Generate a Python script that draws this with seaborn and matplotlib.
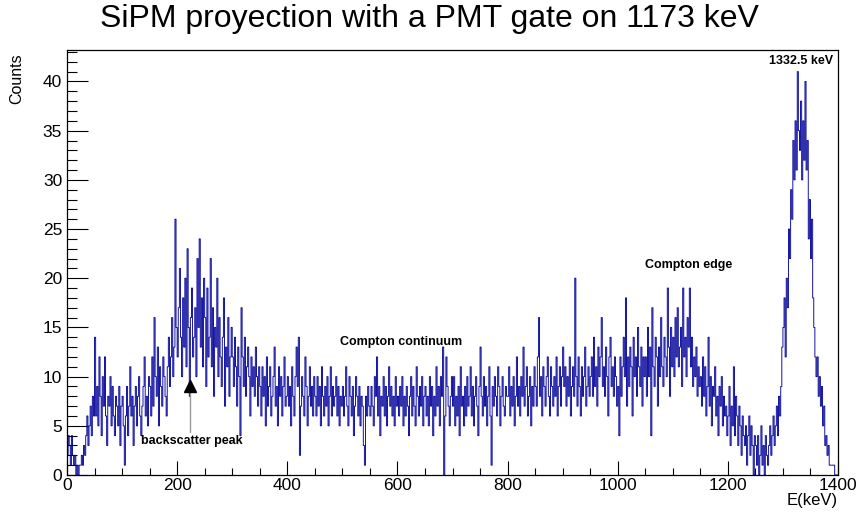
import numpy as np
import pandas as pd
import matplotlib
matplotlib.use("Agg")
import matplotlib.pyplot as plt
from matplotlib.ticker import MultipleLocator
import seaborn as sns

# ---------------- data (counts per 2 keV bin) ----------------
BIN_WIDTH = 2  # keV
E_MIN, E_MAX = 0, 1400

counts_0000_0250 = [
    2, 4, 3, 1, 4, 2, 1, 2, 0, 1, 0, 1, 1, 2, 1, 3, 2, 4, 6, 3, 5, 7, 4, 8, 6,
    14, 6, 9, 5, 12, 8, 4, 10, 7, 12, 6, 3, 8, 7, 10, 5, 9, 6, 4, 8, 7, 5, 9, 3, 7,
    8, 5, 1, 6, 9, 4, 7, 11, 6, 8, 3, 7, 9, 5, 8, 10, 6, 4, 7, 9, 12, 6, 8, 5, 10,
    9, 6, 12, 7, 16, 10, 8, 13, 5, 11, 9, 7, 12, 10, 8, 6, 11, 14, 9, 12, 16, 10, 13, 26, 15,
    12, 17, 21, 14, 10, 18, 13, 20, 11, 23, 15, 8, 16, 19, 12, 14, 17, 10, 22, 15, 24, 13, 18, 11, 20,
]
counts_0250_0500 = [
    16, 9, 19, 12, 14, 22, 11, 17, 8, 15, 13, 20, 10, 16, 12, 9, 14, 18, 7, 13, 11, 16, 8, 12, 15,
    12, 9, 14, 11, 7, 13, 10, 4, 17, 12, 9, 14, 8, 11, 13, 10, 6, 12, 9, 11, 8, 13, 10, 7, 11,
    9, 6, 11, 8, 10, 5, 12, 7, 9, 11, 6, 8, 10, 13, 7, 9, 5, 11, 8, 10, 6, 9, 12, 7, 8,
    10, 7, 9, 5, 11, 8, 6, 10, 13, 9, 14, 2, 7, 10, 8, 6, 12, 9, 5, 8, 11, 7, 9, 6, 10,
    8, 6, 10, 7, 9, 5, 11, 8, 6, 9, 7, 10, 5, 8, 11, 6, 9, 7, 8, 10, 6, 9, 5, 8, 7,
]
counts_0500_0750 = [
    9, 6, 8, 11, 7, 5, 10, 8, 6, 9, 4, 7, 10, 8, 6, 9, 5, 8, 7, 3, 1, 8, 6, 9, 7,
    6, 9, 7, 5, 10, 8, 12, 6, 9, 4, 8, 7, 10, 6, 9, 5, 8, 11, 7, 9, 6, 8, 5, 10, 7,
    8, 6, 9, 7, 10, 5, 8, 6, 9, 7, 4, 8, 10, 6, 9, 7, 5, 11, 8, 6, 9, 7, 10, 5, 8,
    9, 6, 8, 5, 10, 7, 9, 4, 8, 6, 11, 7, 9, 5, 10, 8, 13, 0, 6, 12, 9, 7, 5, 8, 10,
    7, 10, 5, 8, 6, 9, 4, 11, 7, 8, 5, 9, 6, 10, 7, 8, 11, 6, 9, 5, 8, 10, 7, 4, 9,
]
counts_0750_1000 = [
    13, 8, 6, 10, 7, 9, 5, 8, 11, 6, 1, 9, 7, 10, 8, 6, 11, 9, 5, 8, 10, 7, 6, 9, 8,
    8, 11, 6, 9, 7, 10, 5, 8, 12, 7, 9, 6, 10, 8, 13, 7, 9, 11, 6, 8, 10, 5, 9, 7, 11,
    9, 7, 12, 16, 8, 10, 6, 11, 9, 7, 10, 12, 8, 6, 11, 9, 7, 10, 8, 12, 6, 9, 11, 7, 10,
    13, 9, 11, 7, 10, 8, 12, 6, 9, 11, 8, 20, 10, 7, 12, 9, 6, 11, 8, 10, 13, 7, 9, 11, 8,
    10, 12, 8, 14, 9, 11, 7, 13, 10, 12, 16, 9, 11, 8, 13, 10, 6, 12, 14, 9, 11, 8, 12, 10, 7,
]
counts_1000_1250 = [
    9, 4, 12, 8, 11, 14, 10, 18, 7, 12, 9, 13, 11, 6, 14, 10, 12, 8, 15, 11, 9, 13, 7, 12, 10,
    12, 8, 15, 10, 13, 4, 17, 11, 9, 14, 12, 7, 13, 10, 16, 11, 9, 14, 12, 10, 19, 13, 8, 15, 11,
    14, 10, 16, 12, 17, 11, 13, 15, 9, 19, 12, 14, 10, 16, 13, 19, 11, 14, 9, 12, 10, 13, 8, 11, 9,
    10, 7, 12, 8, 11, 6, 9, 14, 7, 10, 5, 9, 8, 11, 6, 8, 4, 9, 7, 10, 5, 8, 6, 7, 4,
    6, 9, 3, 7, 5, 11, 4, 8, 6, 3, 7, 5, 2, 6, 4, 3, 5, 1, 4, 6, 2, 5, 3, 0, 4,
]
counts_1250_1400 = [
    3, 1, 4, 0, 2, 5, 1, 3, 0, 4, 2, 1, 3, 5, 2, 4, 6, 3, 5, 7, 4, 8, 6, 9, 13,
    15, 18, 12, 20, 17, 25, 22, 29, 26, 34, 30, 36, 31, 41, 35, 33, 38, 30, 36, 32, 40, 31, 34, 24, 28,
    22, 26, 18, 15, 12, 10, 12, 8, 10, 7, 9, 5, 7, 3, 4, 2, 3, 1, 1, 1, 1, 1, 0, 0, 0,
]

x_ticks = [0, 200, 400, 600, 800, 1000, 1200, 1400]
y_ticks = [0, 5, 10, 15, 20, 25, 30, 35, 40]

title_text = "SiPM proyection with a PMT gate on 1173 keV"
x_label = "E(keV)"
y_label = "Counts"

annotations = [
    ("1332.5 keV", 1333, 42.1),
    ("Compton edge", 1128, 21.3),
    ("Compton continuum", 606, 13.5),
    ("backscatter peak", 227, 3.5),
]
arrow_x, arrow_tip, arrow_base = 223, 9.6, 4.4

# ---------------- build table ----------------
counts = (counts_0000_0250 + counts_0250_0500 + counts_0500_0750
          + counts_0750_1000 + counts_1000_1250 + counts_1250_1400)
edges = [E_MIN + BIN_WIDTH * i for i in range(len(counts) + 1)]
centers = [e + BIN_WIDTH / 2 for e in edges[:-1]]
df = pd.DataFrame({"E": centers, "counts": counts})

# ---------------- style ----------------
sns.set_style("ticks")
plt.rcParams["font.family"] = ["Liberation Sans", "DejaVu Sans"]
plt.rcParams["text.color"] = "black"
plt.rcParams["xtick.color"] = "black"
plt.rcParams["ytick.color"] = "black"

LINE_COLOR = "#000099"

fig = plt.figure(figsize=(8.61, 5.18), dpi=100)
ax = fig.add_axes([67 / 861, 1 - 475 / 518, (838 - 67) / 861, (475 - 50) / 518])

sns.histplot(data=df, x="E", weights="counts", bins=edges, element="step",
             fill=False, color=LINE_COLOR, linewidth=0.65, ax=ax)

ax.set_xlim(0, 1400)
ax.set_ylim(0, 43.2)
ax.set_xticks(x_ticks)
ax.set_yticks(y_ticks)
ax.xaxis.set_minor_locator(MultipleLocator(50))
ax.yaxis.set_minor_locator(MultipleLocator(1))
ax.tick_params(axis="both", which="both", direction="in", top=False, right=False,
               colors="black", labelcolor="black", width=0.8)
ax.tick_params(axis="y", which="major", length=15, pad=3.5, labelsize=12.5)
ax.tick_params(axis="y", which="minor", length=7.5)
ax.tick_params(axis="x", which="major", length=10, pad=2.5, labelsize=12.5)
ax.tick_params(axis="x", which="minor", length=5)
for s in ax.spines.values():
    s.set_visible(True)
    s.set_linewidth(0.9)
    s.set_color("black")

ax.set_xlabel("")
ax.set_ylabel("")
fig.text(838 / 861, 1 - 501 / 518, x_label, ha="right", va="center", fontsize=12,
         color="black")
fig.text(16.5 / 861, 1 - 53 / 518, y_label, ha="center", va="top", rotation=90,
         fontsize=11.5, color="black")
fig.text(429 / 861, 1 - 19 / 518, title_text, ha="center", va="center", fontsize=23,
         color="black")

for txt, xx, yy in annotations:
    ax.text(xx, yy, txt, ha="center", va="center", fontsize=9, fontweight="bold",
            color="black")

ax.plot([arrow_x, arrow_x], [arrow_base, arrow_tip - 0.8], color="#999999", lw=1)
ax.plot([arrow_x], [arrow_tip - 0.55], marker="^", color="black", markersize=8,
        linestyle="none")

fig.savefig("out.png", dpi=100)
